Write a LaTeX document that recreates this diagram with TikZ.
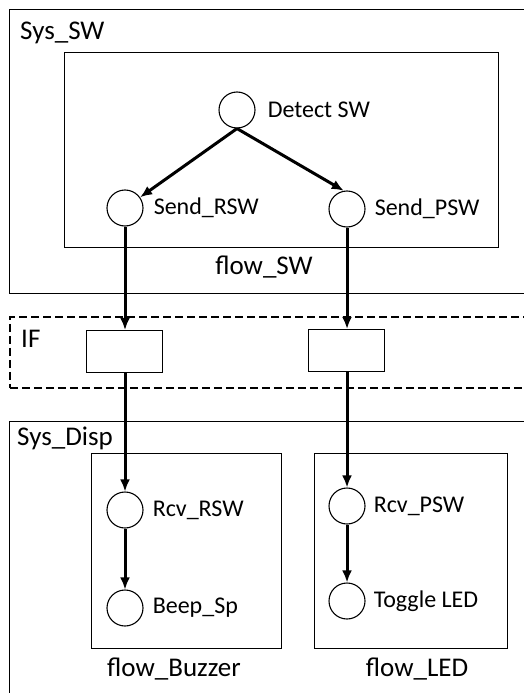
\documentclass[tikz,border=0pt]{standalone}
\usepackage{fontspec}
\setmainfont{Carlito}
\usetikzlibrary{arrows.meta, positioning}
\tikzset{
    frame/.style = {rectangle, draw=black, line width=1.1pt, anchor=north west, inner sep=0pt},
    iface/.style = {frame, dash pattern=on 8pt off 4pt, line width=1.8pt},
    place/.style = {circle, draw=black, line width=1.1pt, minimum size=36pt, inner sep=0pt},
    port/.style  = {rectangle, draw=black, line width=1.1pt, minimum width=76pt, minimum height=42pt, inner sep=0pt},
    lbl/.style   = {inner sep=0pt, anchor=west, font=\fontsize{24}{28}\selectfont},
    title/.style = {inner sep=0pt, font=\fontsize{27}{31}\selectfont},
    flow/.style  = {line width=3pt, -{Latex[length=12pt,width=10pt]}}
}
\begin{document}
\begin{tikzpicture}[x=1pt, y=-1pt]
        \useasboundingbox (0,0) rectangle (524,693);

        % Containers
        \node (syssw) [frame, minimum width=525pt, minimum height=284pt] at (9,9) {};
        \node (flowsw) [frame, minimum width=434pt, minimum height=195pt] at (64,52) {};
        \node (ifbox) [iface, minimum width=525pt, minimum height=71pt] at (9,316) {};
        \node (sysdisp) [frame, minimum width=525pt, minimum height=285pt] at (9,421) {};
        \node (flowbuz) [frame, minimum width=190pt, minimum height=195pt] at (91,453) {};
        \node (flowled) [frame, minimum width=193pt, minimum height=195pt] at (314,453) {};

        % Container titles
        \node (syssw_t) [title, anchor=west] at (20,33) {Sys\_SW};
        \node (flowsw_t) [title] at (264,267) {flow\_SW};
        \node (if_t) [title, anchor=west] at (21,339) {IF};
        \node (sysdisp_t) [title, anchor=west] at (17,438) {Sys\_Disp};
        \node (flowbuz_t) [title] at (174,669) {flow\_Buzzer};
        \node (flowled_t) [title] at (417,669) {flow\_LED};

        % Places
        \node (detect) [place] at (237,110) {};
        \node (sendr) [place] at (125,208) {};
        \node (sendp) [place] at (347,209) {};
        \node (rcvr) [place] at (125,510) {};
        \node (beep) [place] at (125,608) {};
        \node (rcvp) [place] at (347,506) {};
        \node (toggle) [place] at (347,601) {};

        % Interface ports
        \node (portr) [port] at (124.5,351.5) {};
        \node (portp) [port] at (346.5,350.5) {};

        % Place labels
        \node (detect_l) [lbl, right=12pt of detect] {Detect SW};
        \node (sendr_l) [lbl, right=10pt of sendr] {Send\_RSW};
        \node (sendp_l) [lbl, right=9pt of sendp] {Send\_PSW};
        \node (rcvr_l) [lbl, right=9pt of rcvr] {Rcv\_RSW};
        \node (beep_l) [lbl, right=9pt of beep] {Beep\_Sp};
        \node (rcvp_l) [lbl, right=8pt of rcvp] {Rcv\_PSW};
        \node (toggle_l) [lbl, right=8pt of toggle] {Toggle LED};

        % Flow arrows
        \draw [flow] (detect.south) -- (sendr);
        \draw [flow] (detect.south) -- (sendp.100);
        \draw [flow] (sendr.south) -- (sendr.south |- portr.north);
        \draw [flow] (sendp.south) -- (sendp.south |- portp.north);
        \draw [flow] (portr.south -| rcvr.north) -- (rcvr.north);
        \draw [flow] (portp.south -| rcvp.north) -- (rcvp.north);
        \draw [flow] (rcvr.south) -- (beep.north);
        \draw [flow] (rcvp.south) -- (toggle.north);

    \end{tikzpicture}
\end{document}
